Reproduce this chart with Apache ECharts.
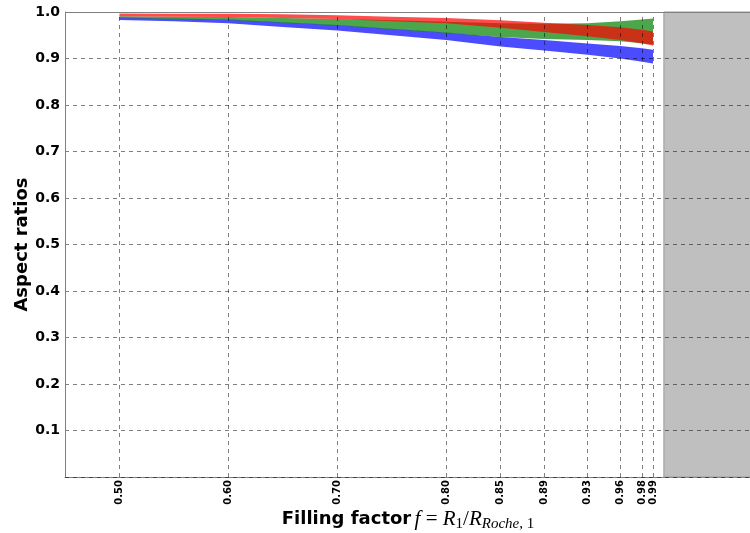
<!DOCTYPE html>
<html>
<head>
<meta charset="utf-8">
<script src="https://cdn.jsdelivr.net/npm/echarts@6/dist/echarts.min.js"></script>
<style>html,body{margin:0;padding:0;background:#fff;}#chart{width:750px;height:533px;}</style>
</head>
<body>
<div id="chart"></div>
<script>
// Filling factor sample points
var fillingFactor = [0.50, 0.55, 0.60, 0.65, 0.70, 0.75, 0.80, 0.85, 0.89, 0.93, 0.96, 0.98, 0.99];
// Band bounds (aspect ratios)
var blueLower  = [0.983, 0.980, 0.976, 0.968, 0.960, 0.950, 0.940, 0.926, 0.917, 0.908, 0.900, 0.893, 0.889];
var blueUpper  = [0.988, 0.986, 0.984, 0.978, 0.972, 0.964, 0.956, 0.946, 0.940, 0.932, 0.927, 0.922, 0.919];
var greenLower = [0.987, 0.985, 0.983, 0.977, 0.971, 0.963, 0.955, 0.946, 0.942, 0.940, 0.937, 0.933, 0.930];
var greenUpper = [0.991, 0.990, 0.989, 0.987, 0.985, 0.982, 0.979, 0.976, 0.975, 0.976, 0.980, 0.984, 0.986];
var redLower   = [0.991, 0.990, 0.989, 0.987, 0.985, 0.980, 0.976, 0.966, 0.957, 0.948, 0.940, 0.932, 0.928];
var redUpper   = [0.997, 0.9965, 0.996, 0.995, 0.993, 0.990, 0.987, 0.982, 0.977, 0.972, 0.967, 0.962, 0.958];
// Tick labels
var xTicks = [0.50, 0.60, 0.70, 0.80, 0.85, 0.89, 0.93, 0.96, 0.98, 0.99];
var forbiddenStart = 1.0;

var xMin = 0.45, xMax = 1.08;

function bandData(lower, upper) {
  return fillingFactor.map(function (x, i) { return [x, lower[i], upper[i]]; });
}

function bandRender(params, api) {
  if (params.dataIndexInside !== 0) return null;
  var n = params.dataInsideLength;
  var pts = [];
  for (var i = 0; i < n; i++) pts.push(api.coord([api.value(0, i), api.value(2, i)]));
  for (var j = n - 1; j >= 0; j--) pts.push(api.coord([api.value(0, j), api.value(1, j)]));
  return {
    type: 'polygon',
    shape: { points: pts },
    style: { fill: api.visual('color'), opacity: 0.7 }
  };
}

var chart = echarts.init(document.getElementById('chart'), null, { renderer: 'canvas' });

var gridLine = { color: 'rgba(0,0,0,0.5)', width: 1, type: [4, 4] };

var option = {
  animation: false,
  grid: { left: 65, top: 12, right: -1, bottom: 56, containLabel: false, outerBoundsMode: 'none' },
  xAxis: {
    type: 'value', min: xMin, max: xMax,
    axisLine: { show: true, onZero: false, lineStyle: { color: '#808080', width: 1 } },
    axisTick: { show: false },
    splitLine: { show: false },
    axisLabel: {
      customValues: xTicks,
      rotate: 90, margin: 3,
      fontFamily: 'DejaVu Sans', fontWeight: 'bold', fontSize: 10, color: '#000',
      formatter: function (v) { return v.toFixed(2); }
    },
    name: '{b|Filling factor} {i|f}{n| = }{i|R}{s|1}{n|/}{i|R}{si|Roche,}{s| 1}',
    nameLocation: 'middle', nameGap: 30, nameMoveOverlap: false,
    nameTextStyle: {
      color: '#000',
      rich: {
        b: { fontFamily: 'DejaVu Sans', fontWeight: 'bold', fontSize: 18, color: '#000' },
        i: { fontFamily: 'Liberation Serif', fontStyle: 'italic', fontSize: 21, color: '#000' },
        n: { fontFamily: 'Liberation Serif', fontSize: 21, color: '#000' },
        s: { fontFamily: 'Liberation Serif', fontSize: 15, color: '#000', padding: [10, 0, 0, 0] },
        si: { fontFamily: 'Liberation Serif', fontStyle: 'italic', fontSize: 15, color: '#000', padding: [10, 0, 0, 0] }
      }
    }
  },
  yAxis: {
    type: 'value', min: 0, max: 1, interval: 0.1, z: 6,
    axisLine: { show: true, lineStyle: { color: '#808080', width: 1 } },
    axisTick: { show: false },
    splitLine: { show: true, lineStyle: gridLine },
    axisLabel: {
      margin: 5,
      fontFamily: 'DejaVu Sans', fontWeight: 'bold', fontSize: 14, color: '#000',
      formatter: function (v) { return v === 0 ? '' : v.toFixed(1); }
    },
    name: 'Aspect ratios', nameLocation: 'middle', nameGap: 34, nameMoveOverlap: false,
    nameTextStyle: { fontFamily: 'DejaVu Sans', fontWeight: 'bold', fontSize: 18, color: '#000' }
  },
  series: [
    {
      type: 'custom', name: 'blue', color: '#0000ff',
      renderItem: bandRender, encode: { x: 0, y: [1, 2] },
      data: bandData(blueLower, blueUpper), z: 2, silent: true,
      markArea: {
        silent: true, z: 1,
        itemStyle: { color: '#bfbfbf', borderColor: '#9a9a9a', borderWidth: 1 },
        data: [[{ xAxis: forbiddenStart }, { xAxis: xMax }]]
      },
      markLine: {
        silent: true, z: 7, symbol: 'none', label: { show: false },
        lineStyle: gridLine,
        data: xTicks.map(function (v) { return { xAxis: v }; }).concat([
          { yAxis: 1.0, lineStyle: { color: '#808080', width: 1, type: 'solid' } }
        ])
      }
    },
    {
      type: 'custom', name: 'green', color: '#008000',
      renderItem: bandRender, encode: { x: 0, y: [1, 2] },
      data: bandData(greenLower, greenUpper), z: 3, silent: true
    },
    {
      type: 'custom', name: 'red', color: '#ff0000',
      renderItem: bandRender, encode: { x: 0, y: [1, 2] },
      data: bandData(redLower, redUpper), z: 4, silent: true
    }
  ]
};
chart.setOption(option);
</script>
</body>
</html>
